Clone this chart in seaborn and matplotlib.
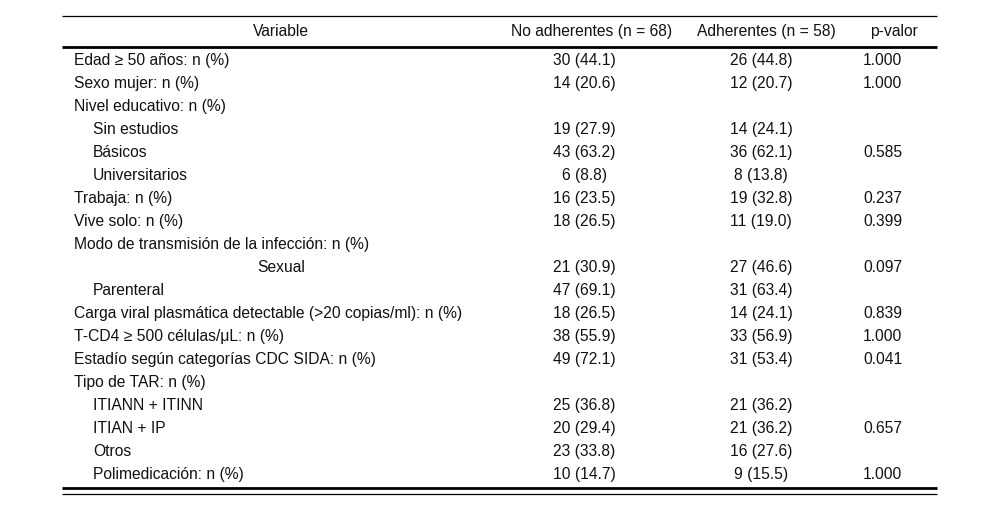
import matplotlib
matplotlib.use("Agg")
import matplotlib.pyplot as plt
import seaborn as sns

sns.set_theme(style="white")
plt.rcParams['font.family'] = ['Liberation Sans', 'DejaVu Sans']

headers = ["Variable", "No adherentes (n = 68)", "Adherentes (n = 58)", "p-valor"]

labels = [
    "Edad \u2265 50 años: n (%)",
    "Sexo mujer: n (%)",
    "Nivel educativo: n (%)",
    "Sin estudios",
    "Básicos",
    "Universitarios",
    "Trabaja: n (%)",
    "Vive solo: n (%)",
    "Modo de transmisión de la infección: n (%)",
    "Sexual",
    "Parenteral",
    "Carga viral plasmática detectable (>20 copias/ml): n (%)",
    "T-CD4 \u2265 500 células/\u03bcL: n (%)",
    "Estadío según categorías CDC SIDA: n (%)",
    "Tipo de TAR: n (%)",
    "ITIANN + ITINN",
    "ITIAN + IP",
    "Otros",
    "Polimedicación: n (%)",
]
# 0 = no indent, 1 = indented, 2 = centred
label_style = [0, 0, 0, 1, 1, 1, 0, 0, 0, 2, 1, 0, 0, 0, 0, 1, 1, 1, 1]

no_adherentes = [
    "30 (44.1)", "14 (20.6)", "", "19 (27.9)", "43 (63.2)", "6 (8.8)",
    "16 (23.5)", "18 (26.5)", "", "21 (30.9)", "47 (69.1)", "18 (26.5)",
    "38 (55.9)", "49 (72.1)", "", "25 (36.8)", "20 (29.4)", "23 (33.8)",
    "10 (14.7)",
]
adherentes = [
    "26 (44.8)", "12 (20.7)", "", "14 (24.1)", "36 (62.1)", "8 (13.8)",
    "19 (32.8)", "11 (19.0)", "", "27 (46.6)", "31 (63.4)", "14 (24.1)",
    "33 (56.9)", "31 (53.4)", "", "21 (36.2)", "21 (36.2)", "16 (27.6)",
    "9 (15.5)",
]
p_valor = [
    "1.000", "1.000", "", "", "0.585", "", "0.237", "0.399", "", "0.097",
    "", "0.839", "1.000", "0.041", "", "", "0.657", "", "1.000",
]

W, H = 1000, 509
fig = plt.figure(figsize=(W / 100, H / 100), dpi=100)
ax = fig.add_axes([0, 0, 1, 1])
ax.set_xlim(0, W)
ax.set_ylim(H, 0)
ax.axis("off")

fs = 11.25
col = "#111111"
x0, x1 = 62, 937
ax.plot([x0, x1], [15.5, 15.5], color="black", lw=0.9, solid_capstyle="butt")
ax.plot([x0, x1], [47, 47], color="black", lw=2.0, solid_capstyle="butt")
ax.plot([x0, x1], [487.5, 487.5], color="black", lw=2.0, solid_capstyle="butt")
ax.plot([x0, x1], [493.5, 493.5], color="black", lw=0.9, solid_capstyle="butt")

hy = 31.5
ax.text(281, hy, headers[0], ha="center", va="center", fontsize=fs, color=col)
ax.text(592, hy, headers[1], ha="center", va="center", fontsize=fs, color=col)
ax.text(766, hy, headers[2], ha="center", va="center", fontsize=fs, color=col)
ax.text(894, hy, headers[3], ha="center", va="center", fontsize=fs, color=col)

y_start, dy = 60.5, 23
for i, lab in enumerate(labels):
    y = y_start + i * dy
    st = label_style[i]
    if st == 0:
        ax.text(74, y, lab, ha="left", va="center", fontsize=fs, color=col)
    elif st == 1:
        ax.text(93, y, lab, ha="left", va="center", fontsize=fs, color=col)
    else:
        ax.text(281, y, lab, ha="center", va="center", fontsize=fs, color=col)
    ax.text(584, y, no_adherentes[i], ha="center", va="center", fontsize=fs, color=col)
    ax.text(761, y, adherentes[i], ha="center", va="center", fontsize=fs, color=col)
    ax.text(863, y, p_valor[i], ha="left", va="center", fontsize=fs, color=col)

fig.savefig("out.png", dpi=100, facecolor="white")
